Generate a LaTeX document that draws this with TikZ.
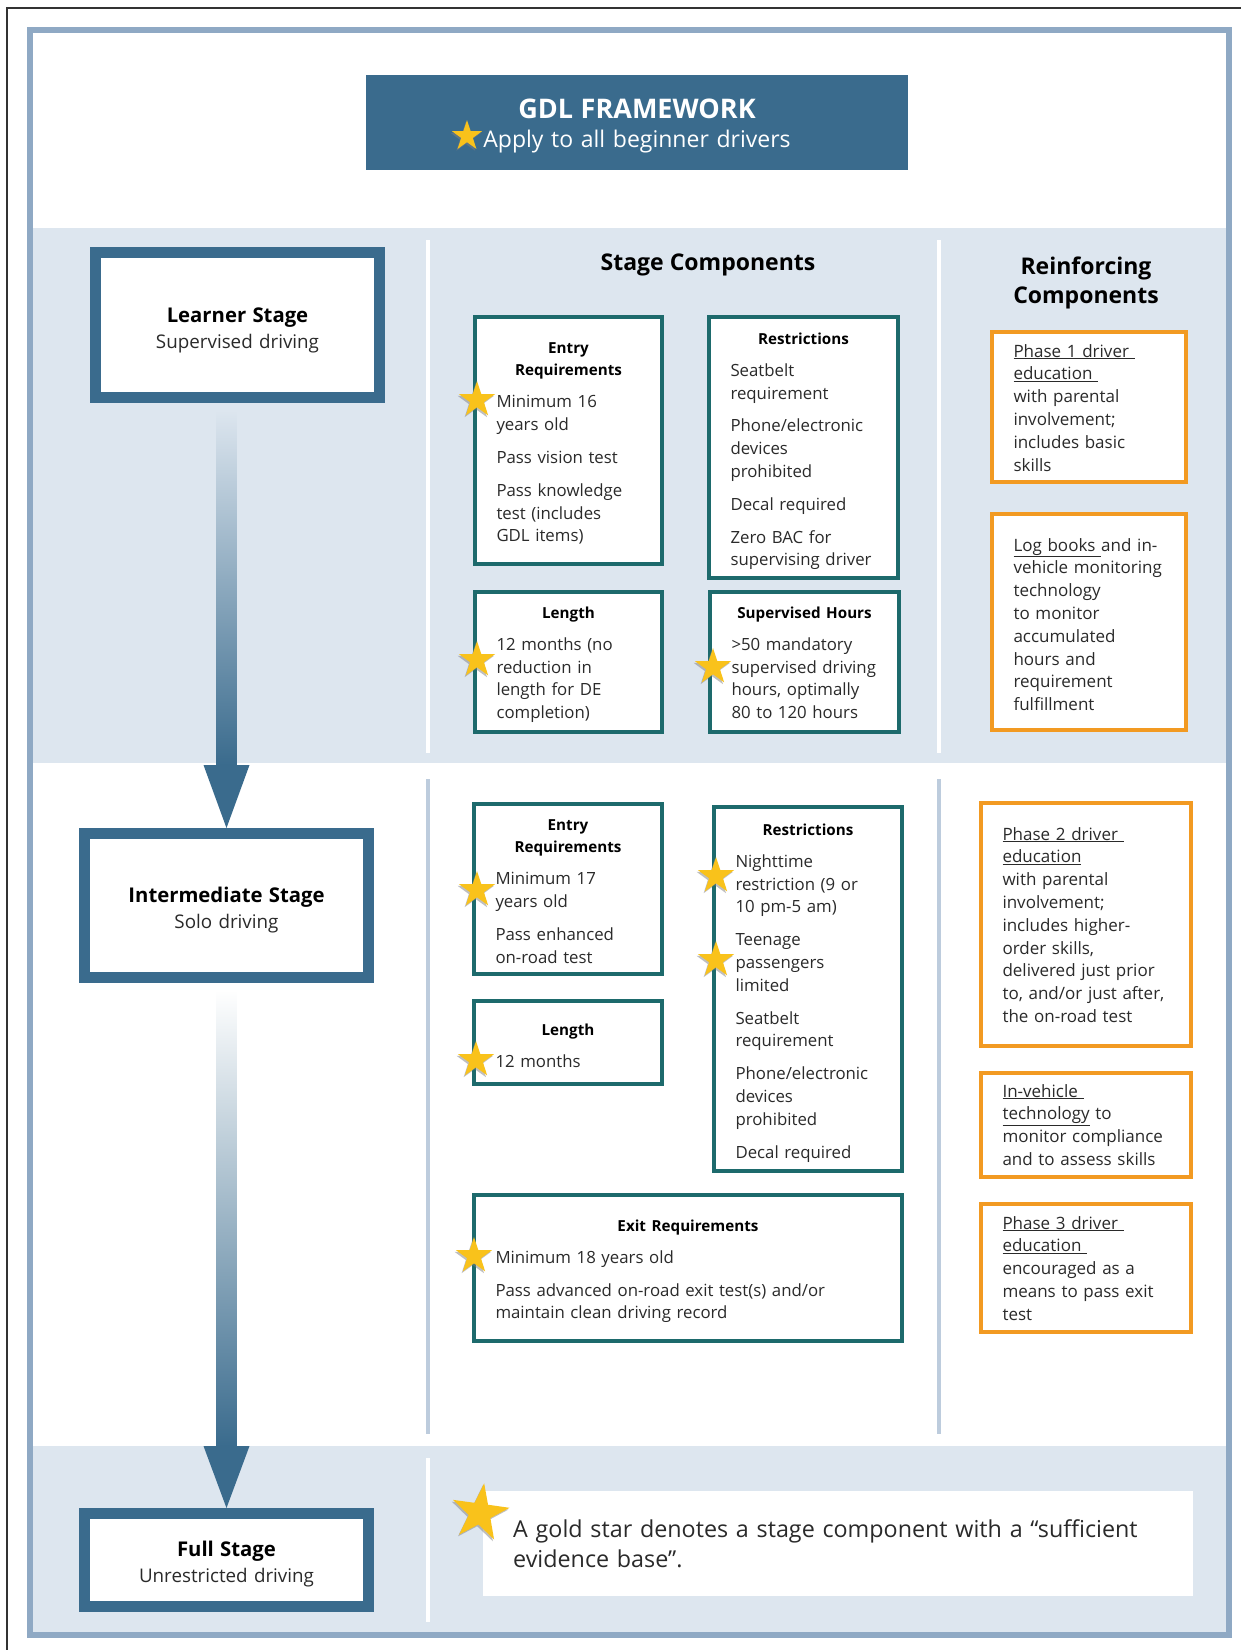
\documentclass[tikz,border=0pt]{standalone}
\usepackage{fontspec}
\setmainfont{Open Sans}
\usetikzlibrary{shapes.geometric,shadows,calc}
\definecolor{stageblue}{HTML}{3A6B8D}
\definecolor{framec}{HTML}{8FA9C4}
\definecolor{bandc}{HTML}{DDE6EF}
\definecolor{linec}{HTML}{BDCCDD}
\definecolor{tealc}{HTML}{1D6A6C}
\definecolor{orangec}{HTML}{F29A22}
\definecolor{goldc}{HTML}{F9C21B}
\definecolor{textc}{HTML}{2A2A2A}
\newcommand\boxhead[1]{{\centering\leftskip=-20pt plus 1fil\rightskip=-20pt plus 1fil\fontsize{15.2}{22.5}\selectfont\bfseries\color{black}#1\par}\vspace{9.5pt}\rightskip=-20pt plus 1fil\relax}
\newcommand\gap{\par\vspace{10pt}}
\newcommand\rfree{\rightskip=-20pt plus 1fil\relax}
\newcommand\stagename[1]{{\fontsize{20.3}{26}\selectfont\bfseries\color{black}#1}}
\begin{document}
\begin{tikzpicture}[x=1pt,y=-1pt,
   tealbox/.style={draw=tealc,line width=4pt,fill=white,anchor=north west,outer sep=0pt,
     inner xsep=21.5pt,inner ysep=0pt,align=left,font=\fontsize{16.8}{22.8}\selectfont,text=textc},
   orangebox/.style={draw=orangec,line width=4.5pt,fill=white,anchor=north west,outer sep=0pt,
     inner xsep=21.5pt,inner ysep=0pt,align=left,font=\fontsize{17}{22.8}\selectfont,text=textc},
   stagebox/.style={draw=stageblue,line width=11pt,fill=white,minimum width=284pt,inner sep=0pt,
     text width=260pt,align=center,font=\fontsize{18.8}{26}\selectfont,text=textc},
   colhead/.style={font=\fontsize{23}{29}\selectfont\bfseries,anchor=base},
   gstar/.style={star,star points=5,star point ratio=2.6,fill=goldc,inner sep=0pt,minimum size=#1,
     drop shadow={shadow xshift=-1.2pt,shadow yshift=-1.8pt,fill=black!50,opacity=.5}},
   gstar/.default=38pt]
\useasboundingbox (0,0) rectangle (1241,1650);
\fill[white] (0,0) rectangle (1241,1650);
\fill[bandc] (33,228) rectangle (1226,763);
\fill[bandc] (33,1446) rectangle (1226,1632);
\draw[framec,line width=6pt] (30,30) rectangle (1229,1635);
\draw[white,line width=4.5pt] (428,240) -- (428,753) (939,240) -- (939,753) (428,1458) -- (428,1622);
\draw[linec,line width=4.5pt] (428,779) -- (428,1434) (939,779) -- (939,1434);

\node[fill=stageblue,minimum width=542pt,text width=520pt,inner sep=0pt,align=center,text=white,
   font=\fontsize{23}{29}\selectfont,text height=43pt,text depth=52pt] (title) at (637,122.5)
   {{\fontsize{27}{29}\selectfont\bfseries GDL FRAMEWORK}\\Apply to all beginner drivers};
\node[colhead] (stagehd) at (708,270) {Stage Components};
\node[colhead,text width=220pt,align=center] (reinfhd) at (1086,274) {Reinforcing\\Components};

\node[stagebox,text height=69.5pt,text depth=75.5pt] (learner) at (237.5,325)
   {\stagename{Learner Stage}\\Supervised driving};
\node[stagebox,text height=68.5pt,text depth=75.5pt] (inter) at (226.5,905.5)
   {\stagename{Intermediate Stage}\\Solo driving};
\node[stagebox,text height=42.5pt,text depth=50.5pt] (full) at (226.5,1560)
   {\stagename{Full Stage}\\Unrestricted driving};

\shade[top color=bandc,bottom color=stageblue] ($(inter.north |- learner.south)+(-10,7)$) rectangle ($(inter.north)+(10,-63)$);
\fill[stageblue] ($(inter.north)+(-23,-63)$) -- (inter.north) -- ($(inter.north)+(23,-63)$) -- cycle;
\shade[top color=white,bottom color=stageblue] ($(full.north |- inter.south)+(-10,7)$) rectangle ($(full.north)+(10,-62)$);
\fill[stageblue] ($(full.north)+(-23,-62)$) -- (full.north) -- ($(full.north)+(23,-62)$) -- cycle;

\node[tealbox,text width=144pt,text height=36pt,text depth=211pt] (lentry) at (475,317)
   {\boxhead{Entry\\Requirements}Minimum 16\\years old\gap Pass vision test\gap Pass knowledge\\test (includes\\GDL items)};
\node[tealbox,text width=146pt,text height=27pt,text depth=234pt] (lrestr) at (709,317)
   {\boxhead{Restrictions}Seatbelt\\requirement\gap Phone/electronic\\devices\\prohibited\gap Decal required\gap Zero BAC for\\supervising driver};
\node[tealbox,text width=144pt,text height=26pt,text depth=114pt] (llength) at (475,592)
   {\boxhead{Length}12 months (no\\reduction in\\length for DE\\completion)};
\node[tealbox,text width=146pt,text height=26pt,text depth=114pt] (lhours) at (710,592)
   {\boxhead{Supervised Hours}>50 mandatory\\supervised driving\\hours, optimally\\80 to 120 hours};
\node[tealbox,text width=145pt,text height=26pt,text depth=144pt] (ientry) at (474,804)
   {\boxhead{Entry\\Requirements}Minimum 17\\years old\gap Pass enhanced\\on-road test};
\node[tealbox,text width=145pt,text height=34pt,text depth=49pt] (ilength) at (474,1001)
   {\boxhead{Length}12 months};
\node[tealbox,text width=145pt,text height=28pt,text depth=336pt] (irestr) at (714,807)
   {\boxhead{Restrictions}Nighttime\\restriction (9 or\\10 pm-5 am)\gap Teenage\\passengers\\limited\gap Seatbelt\\requirement\gap Phone/electronic\\devices\\prohibited\gap Decal required};
\node[tealbox,text width=385pt,text height=36pt,text depth=110pt] (iexit) at (474,1195)
   {\boxhead{Exit Requirements}Minimum 18 years old\gap Pass advanced on-road exit test(s) and/or\\maintain clean driving record};

\node[orangebox,text width=151pt,text height=25pt,text depth=125pt] (phase1) at (992,332)
   {\rfree\underline{Phase 1 driver\ }\\\underline{education\ }\\with parental\\involvement;\\includes basic\\skills};
\node[orangebox,text width=151pt,text height=37pt,text depth=179pt] (logbook) at (992,514)
   {\rfree\underline{Log books\ }and in-\\vehicle monitoring\\technology\\to monitor\\accumulated\\hours and\\requirement\\fulfillment};
\node[orangebox,text width=167pt,text height=37pt,text depth=206pt] (phase2) at (981,803)
   {\rfree\underline{Phase 2 driver\ }\\\underline{education}\\with parental\\involvement;\\includes higher-\\order skills,\\delivered just prior\\to, and/or just after,\\the on-road test};
\node[orangebox,text width=167pt,text height=24pt,text depth=80pt] (invehicle) at (981,1073)
   {\rfree\underline{In-vehicle\ }\\\underline{technology} to\\monitor compliance\\and to assess skills};
\node[orangebox,text width=167pt,text height=25pt,text depth=103pt] (phase3) at (981,1204)
   {\rfree\underline{Phase 3 driver\ }\\\underline{education\ }\\encouraged as a\\means to pass exit\\test};

\node[gstar=32pt] (sttitle) at (467,136) {};
\node[gstar] (st1) at (477,400) {};
\node[gstar] (st2) at (477,660) {};
\node[gstar] (st3) at (713,667) {};
\node[gstar] (st4) at (477,890) {};
\node[gstar] (st5) at (476,1060) {};
\node[gstar] (st6) at (716,876) {};
\node[gstar] (st7) at (716,960) {};
\node[gstar] (st8) at (474,1256) {};

\node[fill=white,anchor=north west,inner xsep=30pt,inner ysep=0pt,text width=650pt,align=left,
   text height=46pt,text depth=59pt,font=\fontsize{23.3}{30.5}\selectfont,text=textc] (legend) at (483,1491)
   {A gold star denotes a stage component with a “sufficient\\evidence base”.};
\node[gstar=60pt,rotate=-8] (stlegend) at (480,1513) {};

\draw[black!80,line width=1.5pt] (7,1650) -- (7,8) -- (1241,8);
\end{tikzpicture}
\end{document}
